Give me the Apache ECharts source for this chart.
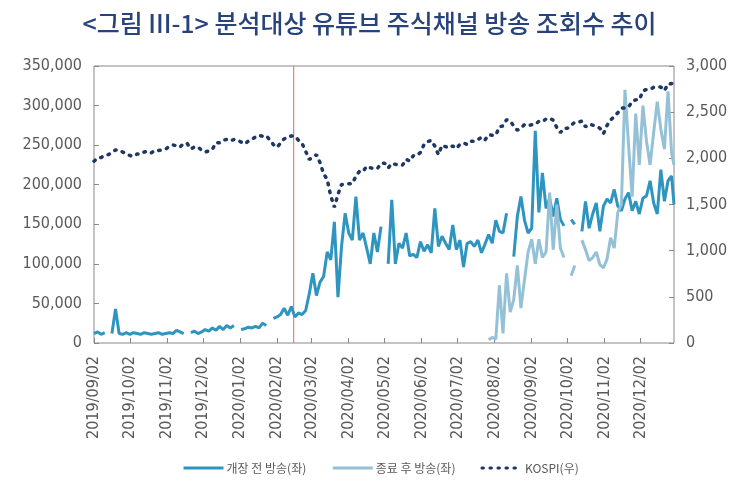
<!DOCTYPE html>
<html><head><meta charset="utf-8">
<script src="https://cdn.jsdelivr.net/npm/echarts@6/dist/echarts.min.js"></script>
<style>html,body{margin:0;padding:0;background:#fff}#c{width:739px;height:484px}</style>
</head><body><div id="c"></div>
<script>
const titleText = '<그림 III-1> 분석대상 유튜브 주식채널 방송 조회수 추이';
const seriesNames = ['개장 전 방송(좌)', '종료 후 방송(좌)', 'KOSPI(우)'];

const dates = [
'2019-09-02','2019-09-05','2019-09-08','2019-09-11','2019-09-14','2019-09-17','2019-09-20','2019-09-23','2019-09-26','2019-09-29',
'2019-10-02','2019-10-05','2019-10-08','2019-10-11','2019-10-14','2019-10-17','2019-10-20','2019-10-23','2019-10-26','2019-10-29',
'2019-11-01','2019-11-04','2019-11-07','2019-11-10','2019-11-13','2019-11-16','2019-11-19','2019-11-22','2019-11-25','2019-11-28',
'2019-12-01','2019-12-04','2019-12-07','2019-12-10','2019-12-13','2019-12-16','2019-12-19','2019-12-22','2019-12-25','2019-12-28','2019-12-31',
'2020-01-03','2020-01-06','2020-01-09','2020-01-12','2020-01-15','2020-01-18','2020-01-21','2020-01-24','2020-01-27','2020-01-30',
'2020-02-02','2020-02-05','2020-02-08','2020-02-11','2020-02-14','2020-02-17','2020-02-20','2020-02-23','2020-02-26','2020-02-29',
'2020-03-03','2020-03-06','2020-03-09','2020-03-12','2020-03-15','2020-03-18','2020-03-21','2020-03-24','2020-03-27','2020-03-30',
'2020-04-02','2020-04-05','2020-04-08','2020-04-11','2020-04-14','2020-04-17','2020-04-20','2020-04-23','2020-04-26','2020-04-29',
'2020-05-02','2020-05-05','2020-05-08','2020-05-11','2020-05-14','2020-05-17','2020-05-20','2020-05-23','2020-05-26','2020-05-29',
'2020-06-01','2020-06-04','2020-06-07','2020-06-10','2020-06-13','2020-06-16','2020-06-19','2020-06-22','2020-06-25','2020-06-28',
'2020-07-01','2020-07-04','2020-07-07','2020-07-10','2020-07-13','2020-07-16','2020-07-19','2020-07-22','2020-07-25','2020-07-28','2020-07-31',
'2020-08-03','2020-08-06','2020-08-09','2020-08-12','2020-08-15','2020-08-18','2020-08-21','2020-08-24','2020-08-27','2020-08-30',
'2020-09-02','2020-09-05','2020-09-08','2020-09-11','2020-09-14','2020-09-17','2020-09-20','2020-09-23','2020-09-26','2020-09-29',
'2020-10-02','2020-10-05','2020-10-08','2020-10-11','2020-10-14','2020-10-17','2020-10-20','2020-10-23','2020-10-26','2020-10-29',
'2020-11-01','2020-11-04','2020-11-07','2020-11-10','2020-11-13','2020-11-16','2020-11-19','2020-11-22','2020-11-25','2020-11-28',
'2020-12-01','2020-12-04','2020-12-07','2020-12-10','2020-12-13','2020-12-16','2020-12-19','2020-12-22','2020-12-25','2020-12-28','2020-12-30'
];

const preMarket = [
12000,14000,11000,13000,null,12000,43000,12000,11000,13000,
11000,13000,12000,11000,13000,12000,11000,12000,13000,11000,
12000,13000,12000,16000,14000,12000,null,13000,15000,12000,
14000,17000,15000,19000,16000,21000,17000,22000,19000,22000,null,
17000,18000,20000,19000,21000,19000,25000,22000,null,31000,
33000,36000,44000,35000,46000,33000,38000,36000,41000,62000,
88000,60000,77000,84000,115000,105000,153000,58000,122000,164000,
139000,130000,185000,130000,139000,120000,100000,139000,115000,147000,
null,100000,181000,100000,126000,120000,139000,110000,112000,108000,
128000,116000,124000,114000,170000,122000,135000,126000,118000,149000,
118000,130000,96000,126000,128000,122000,130000,114000,125000,137000,126000,
155000,141000,139000,164000,null,109000,160000,185000,155000,139000,
145000,268000,165000,215000,170000,183000,160000,183000,156000,148000,
null,156000,150000,null,141000,179000,145000,163000,177000,141000,
173000,182000,177000,194000,173000,167000,182000,190000,167000,179000,
163000,183000,186000,205000,177000,163000,219000,179000,205000,211000,175000
];

const afterClose = [
null,null,null,null,null,null,null,null,null,null,
null,null,null,null,null,null,null,null,null,null,
null,null,null,null,null,null,null,null,null,null,
null,null,null,null,null,null,null,null,null,null,null,
null,null,null,null,null,null,null,null,null,null,
null,null,null,null,null,null,null,null,null,null,
null,null,null,null,null,null,null,null,null,null,
null,null,null,null,null,null,null,null,null,null,
null,null,null,null,null,null,null,null,null,null,
null,null,null,null,null,null,null,null,null,null,
null,null,null,null,null,null,null,null,null,4000,7000,
5000,73000,12000,88000,39000,55000,98000,44000,80000,115000,
131000,100000,131000,108000,115000,190000,118000,175000,120000,108000,
null,85000,98000,null,130000,118000,104000,108000,115000,99000,
95000,106000,133000,120000,165000,175000,320000,250000,185000,290000,
225000,300000,255000,225000,266000,305000,270000,245000,318000,240000,225000
];

const kospi = [
1969,2004,2009,2033,2040,2062,2091,2091,2068,2050,
2031,2021,2046,2045,2068,2077,2060,2087,2085,2092,
2100,2130,2144,2137,2122,2163,2160,2101,2124,2122,
2087,2068,2081,2098,2170,2168,2196,2205,2190,2204,2198,
2176,2155,2186,2206,2231,2250,2239,2246,2200,2149,
2119,2165,2211,2223,2243,2242,2195,2162,2076,1987,
2014,2040,1954,1834,1771,1591,1470,1609,1717,1717,
1724,1725,1807,1860,1857,1914,1898,1889,1889,1947,
1947,1895,1945,1935,1924,1927,1989,1970,2029,2029,
2065,2151,2181,2195,2132,2040,2141,2126,2112,2134,
2106,2152,2165,2150,2186,2183,2201,2229,2200,2256,2249,
2251,2342,2351,2418,2407,2348,2304,2329,2366,2353,
2364,2368,2401,2396,2427,2435,2412,2333,2279,2327,
2327,2358,2391,2391,2403,2341,2370,2360,2343,2326,
2267,2357,2416,2452,2493,2543,2547,2553,2618,2633,
2634,2731,2745,2746,2770,2771,2772,2733,2806,2808,2873
];

const xTickDates = ['2019-09-02','2019-10-02','2019-11-02','2019-12-02','2020-01-02','2020-02-02','2020-03-02',
'2020-04-02','2020-05-02','2020-06-02','2020-07-02','2020-08-02','2020-09-02','2020-10-02','2020-11-02','2020-12-02'];
const xMin = '2019-09-02', xMax = '2020-12-30';
const eventDate = '2020-02-16';
const leftMax = 350000, leftStep = 50000;
const rightMax = 3000, rightStep = 500;

function ts(s){ const p = s.split('-').map(Number); return Date.UTC(p[0], p[1]-1, p[2]); }
function pad(n){ return (n<10?'0':'')+n; }
function fmtDate(v){ const d = new Date(v); return d.getUTCFullYear()+'/'+pad(d.getUTCMonth()+1)+'/'+pad(d.getUTCDate()); }
function comma(v){ return Number(v).toLocaleString('en-US'); }

const tickTs = xTickDates.map(ts);
const zip = arr => dates.map((d,i) => [ts(d), arr[i]]);

const numFont = "'DejaVu Sans Condensed','Liberation Sans Narrow','Noto Sans CJK KR',sans-serif";
const krFont = "'Noto Sans CJK KR','Noto Sans',sans-serif";
const axisGray = '#888888';
const labelGray = '#595959';
const eventColor = '#e46a64';

const chart = echarts.init(document.getElementById('c'), null, {renderer:'canvas'});
chart.setOption({
  animation: false,
  backgroundColor: '#fff',
  title: {
    text: titleText, left: 'center', top: 6,
    textStyle: {fontFamily: krFont, fontSize: 25, fontWeight: 500, color: '#27437a'}
  },
  legend: {
    left: 182, bottom: 10, padding: 0, itemWidth: 40, itemHeight: 10, itemGap: 25,
    data: seriesNames,
    itemStyle: {opacity: 0, borderWidth: 0},
    lineStyle: {width: 3},
    textStyle: {fontFamily: krFont, fontSize: 12, color: labelGray, padding: [0, 0, 0, -2]}
  },
  grid: {left: 94, right: 65, top: 66, bottom: 141, show: true, borderColor: axisGray, borderWidth: 1},
  xAxis: {
    type: 'value', min: ts(xMin), max: ts(xMax),
    axisLine: {show: false},
    splitLine: {show: false},
    axisTick: {show: true, inside: true, length: 5, customValues: tickTs, lineStyle: {color: axisGray}},
    axisLabel: {customValues: tickTs, rotate: 90, margin: 13, formatter: fmtDate,
      fontFamily: numFont, fontSize: 16, color: labelGray}
  },
  yAxis: [
    {type: 'value', min: 0, max: leftMax, interval: leftStep, position: 'left',
     axisLine: {show: false}, splitLine: {show: false},
     axisTick: {show: true, inside: true, length: 5, lineStyle: {color: axisGray}},
     axisLabel: {formatter: comma, margin: 12, fontFamily: numFont, fontSize: 16, color: labelGray}},
    {type: 'value', min: 0, max: rightMax, interval: rightStep, position: 'right',
     axisLine: {show: false}, splitLine: {show: false},
     axisTick: {show: true, inside: true, length: 5, lineStyle: {color: axisGray}},
     axisLabel: {formatter: comma, margin: 12, fontFamily: numFont, fontSize: 16, color: labelGray}}
  ],
  series: [
    {name: 'event', type: 'line', yAxisIndex: 0, silent: true, showSymbol: false, z: 1,
     data: [[ts(eventDate), 0], [ts(eventDate), leftMax]],
     lineStyle: {color: eventColor, width: 1}, itemStyle: {color: eventColor}},
    {name: seriesNames[0], type: 'line', yAxisIndex: 0, data: zip(preMarket), showSymbol: false,
     lineStyle: {color: '#2e95c0', width: 3}, itemStyle: {color: '#2e95c0'}, z: 2},
    {name: seriesNames[1], type: 'line', yAxisIndex: 0, data: zip(afterClose), showSymbol: false,
     lineStyle: {color: '#95c1d6', width: 3}, itemStyle: {color: '#95c1d6'}, z: 3},
    {name: seriesNames[2], type: 'line', yAxisIndex: 1, data: zip(kospi), showSymbol: false,
     lineStyle: {color: '#1f3763', width: 3.5, type: [1.5, 6.5], cap: 'round'}, itemStyle: {color: '#1f3763'}, z: 4}
  ]
});
</script></body></html>
